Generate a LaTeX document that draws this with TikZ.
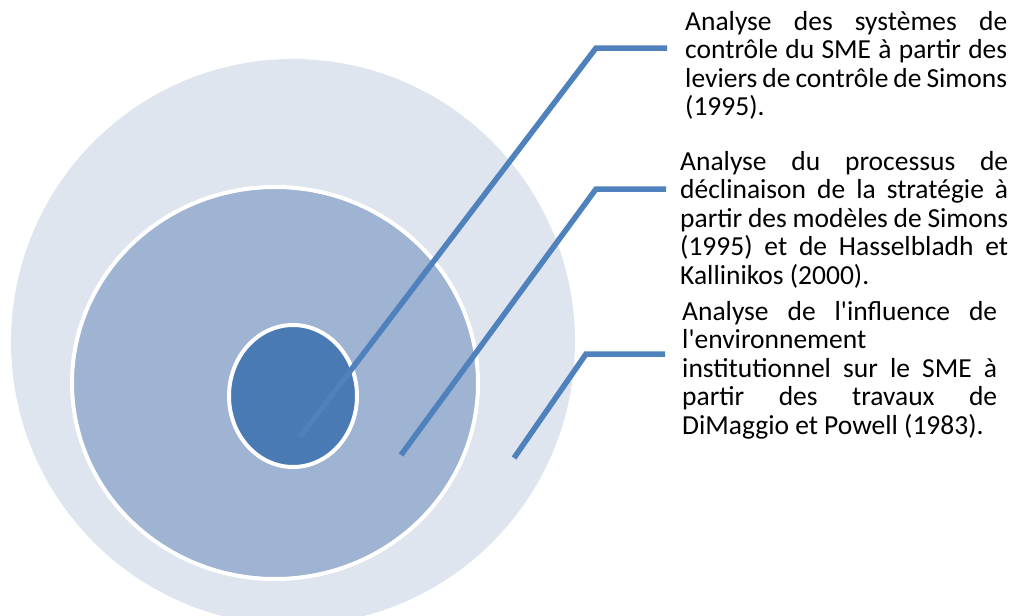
\documentclass[tikz,border=0pt]{standalone}
\usepackage{fontspec}
\setmainfont{Carlito}
\definecolor{ring1}{HTML}{DFE5EF}
\definecolor{ring2}{HTML}{9FB3D2}
\definecolor{ring3}{HTML}{4A7AB4}
\definecolor{leader}{HTML}{4F81BD}
\newcommand\jl[2]{\makebox[#1][s]{#2}}
\newcommand\ap{\textquotesingle}
\begin{document}
\begin{tikzpicture}[x=1pt,y=-1pt,
  lbl/.style={anchor=north west,inner sep=0pt,align=left,font=\fontsize{27.5}{28.5}\selectfont},
  ldr/.style={draw=leader,line width=5.5pt,line join=miter}]
\useasboundingbox (0,0) rectangle (1021,616);
\clip (0,0) rectangle (1021,616);
\fill[ring1] (293,342) ellipse[x radius=282,y radius=283];
\filldraw[fill=ring2,draw=white,line width=4pt] (275,383) ellipse[x radius=203,y radius=196];
\filldraw[fill=ring3,draw=white,line width=4pt] (293,396) ellipse[x radius=64,y radius=71];
% text
\node[lbl] (t1) at (685,11) {\jl{322pt}{Analyse des systèmes de}\\\jl{322pt}{contrôle du SME à partir des}\\\jl{322pt}{leviers de contrôle de Simons}\\(1995).};
\node[lbl] (t2) at (680,151) {\jl{328pt}{Analyse du processus de}\\\jl{328pt}{déclinaison de la stratégie à}\\\jl{328pt}{partir des modèles de Simons}\\\jl{328pt}{(1995) et de Hasselbladh et}\\Kallinikos (2000).};
\node[lbl] (t3) at (682,301) {\jl{315pt}{Analyse de l\ap influence de}\\l\ap environnement\\\jl{315pt}{institutionnel sur le SME à}\\\jl{315pt}{partir des travaux de}\\DiMaggio et Powell (1983).};
% leader lines
\coordinate (a1) at (300,437); \coordinate (b1) at (596,48); \coordinate (c1) at (667,48);
\coordinate (a2) at (401,455); \coordinate (b2) at (596,189); \coordinate (c2) at (666,189);
\coordinate (a3) at (514,458); \coordinate (b3) at (586,354); \coordinate (c3) at (665,354);
\draw[ldr] (a1) -- (b1) -- (c1);
\draw[ldr] (a2) -- (b2) -- (c2);
\draw[ldr] (a3) -- (b3) -- (c3);
\end{tikzpicture}
\end{document}
